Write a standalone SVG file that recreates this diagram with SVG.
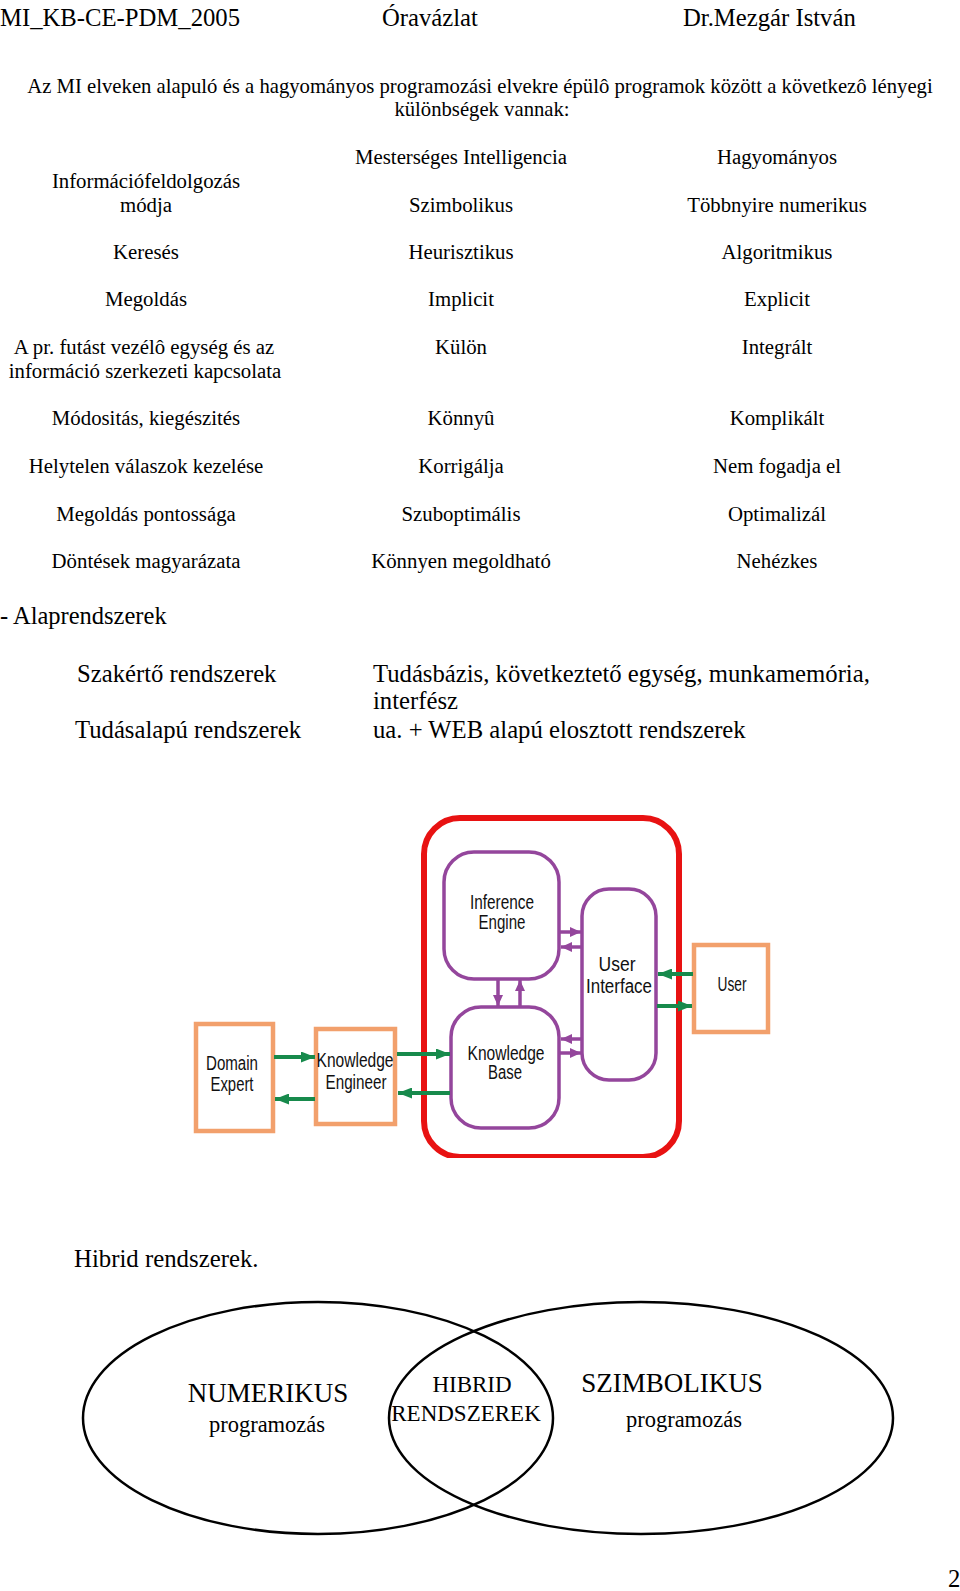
<svg xmlns="http://www.w3.org/2000/svg" width="960" height="1591" viewBox="0 0 960 1591">
<defs>
<style>
.t{font-family:"Liberation Serif","Times New Roman",serif;fill:#000}
.h{font-size:24.7px}
.r{font-size:20.8px;text-anchor:middle}
.b{font-size:24.7px}
.d{font-family:"Liberation Sans",Arial,sans-serif;font-size:20px;fill:#111;text-anchor:middle}
.org{fill:#fff;stroke:#f2a06c;stroke-width:4.5}
.pur{fill:#fff;stroke:#94469c;stroke-width:3.5}
.ga{stroke:#178a4c;stroke-width:4;fill:none;marker-end:url(#gh)}
.pa{stroke:#94469c;stroke-width:3.5;fill:none;marker-end:url(#ph)}
.v{fill:none;stroke:#000;stroke-width:2.5}
</style>
<marker id="gh" markerUnits="userSpaceOnUse" markerWidth="14" markerHeight="11" refX="14" refY="5.5" orient="auto"><path d="M0,0 L14,5.5 L0,11 z" fill="#178a4c"/></marker>
<marker id="ph" markerUnits="userSpaceOnUse" markerWidth="11" markerHeight="10" refX="11" refY="5" orient="auto"><path d="M0,0 L11,5 L0,10 z" fill="#94469c"/></marker>
<clipPath id="clip"><rect x="0" y="800" width="960" height="358"/></clipPath>
</defs>
<rect width="960" height="1591" fill="#fff"/>

<g id="header">
<text class="t h" x="0" y="26">MI_KB-CE-PDM_2005</text>
<text class="t h" x="382" y="26">Óravázlat</text>
<text class="t h" x="683" y="26">Dr.Mezgár István</text>
</g>

<g id="intro" class="t" font-size="20.7px" text-anchor="middle">
<text x="480" y="93">Az MI elveken alapuló és a hagyományos programozási elvekre épülô programok között a következô lényegi</text>
<text x="482" y="116">különbségek vannak:</text>
</g>

<g id="table">
<text class="t r" x="461" y="164">Mesterséges Intelligencia</text>
<text class="t r" x="777" y="164">Hagyományos</text>
<text class="t r" x="146" y="188">Információfeldolgozás</text>
<text class="t r" x="146" y="212">módja</text>
<text class="t r" x="461" y="212">Szimbolikus</text>
<text class="t r" x="777" y="212">Többnyire numerikus</text>
<text class="t r" x="146" y="259">Keresés</text>
<text class="t r" x="461" y="259">Heurisztikus</text>
<text class="t r" x="777" y="259">Algoritmikus</text>
<text class="t r" x="146" y="306">Megoldás</text>
<text class="t r" x="461" y="306">Implicit</text>
<text class="t r" x="777" y="306">Explicit</text>
<text class="t r" x="144" y="354">A pr. futást vezélô egység és az</text>
<text class="t r" x="145" y="378">információ szerkezeti kapcsolata</text>
<text class="t r" x="461" y="354">Külön</text>
<text class="t r" x="777" y="354">Integrált</text>
<text class="t r" x="146" y="425">Módositás, kiegészités</text>
<text class="t r" x="461" y="425">Könnyû</text>
<text class="t r" x="777" y="425">Komplikált</text>
<text class="t r" x="146" y="473">Helytelen válaszok kezelése</text>
<text class="t r" x="461" y="473">Korrigálja</text>
<text class="t r" x="777" y="473">Nem fogadja el</text>
<text class="t r" x="146" y="521">Megoldás pontossága</text>
<text class="t r" x="461" y="521">Szuboptimális</text>
<text class="t r" x="777" y="521">Optimalizál</text>
<text class="t r" x="146" y="568">Döntések magyarázata</text>
<text class="t r" x="461" y="568">Könnyen megoldható</text>
<text class="t r" x="777" y="568">Nehézkes</text>
</g>

<g id="alaprendszerek">
<text class="t" font-size="24.5px" x="0" y="624">- Alaprendszerek</text>
<text class="t b" x="77" y="682">Szakértő rendszerek</text>
<text class="t b" x="373" y="682">Tudásbázis, következtető egység, munkamemória,</text>
<text class="t b" x="373" y="709">interfész</text>
<text class="t b" x="75" y="738">Tudásalapú rendszerek</text>
<text class="t b" x="373" y="738">ua. + WEB alapú elosztott rendszerek</text>
</g>

<g id="expert-system">
<g id="system-boundary" clip-path="url(#clip)">
<rect x="424" y="818" width="255" height="339" rx="36" fill="#fff" stroke="#e81212" stroke-width="6"/>
</g>
<g id="domain-expert">
<rect class="org" x="196" y="1024" width="77" height="107"/>
<text class="d" x="232" y="1070" textLength="52" lengthAdjust="spacingAndGlyphs">Domain</text>
<text class="d" x="232" y="1091" textLength="43" lengthAdjust="spacingAndGlyphs">Expert</text>
</g>
<g id="knowledge-engineer">
<rect class="org" x="316" y="1029" width="79" height="95"/>
<text class="d" x="355" y="1067" textLength="77" lengthAdjust="spacingAndGlyphs">Knowledge</text>
<text class="d" x="356" y="1089" textLength="61" lengthAdjust="spacingAndGlyphs">Engineer</text>
</g>
<g id="inference-engine">
<rect class="pur" x="444" y="852" width="115" height="127" rx="30"/>
<text class="d" x="502" y="909" textLength="64" lengthAdjust="spacingAndGlyphs">Inference</text>
<text class="d" x="502" y="929" textLength="47" lengthAdjust="spacingAndGlyphs">Engine</text>
</g>
<g id="knowledge-base">
<rect class="pur" x="451" y="1007" width="108" height="121" rx="30"/>
<text class="d" x="506" y="1060" textLength="77" lengthAdjust="spacingAndGlyphs">Knowledge</text>
<text class="d" x="505" y="1079" textLength="34" lengthAdjust="spacingAndGlyphs">Base</text>
</g>
<g id="user-interface">
<rect class="pur" x="582" y="889" width="74" height="191" rx="27"/>
<text class="d" x="617" y="971" textLength="37" lengthAdjust="spacingAndGlyphs">User</text>
<text class="d" x="619" y="993" textLength="66" lengthAdjust="spacingAndGlyphs">Interface</text>
</g>
<g id="user">
<rect class="org" x="694" y="945" width="74" height="87"/>
<text class="d" x="732" y="991" textLength="29" lengthAdjust="spacingAndGlyphs">User</text>
</g>
</g>

<g id="connectors">
<line class="ga" x1="274" y1="1057" x2="315" y2="1057"/>
<line class="ga" x1="315" y1="1099" x2="275" y2="1099"/>
<line class="ga" x1="397" y1="1054" x2="450" y2="1054"/>
<line class="ga" x1="450" y1="1093" x2="398" y2="1093"/>
<line class="ga" x1="693" y1="974" x2="658" y2="974"/>
<line class="ga" x1="657" y1="1006" x2="692" y2="1006"/>
<line class="pa" x1="560" y1="932" x2="581" y2="932"/>
<line class="pa" x1="581" y1="947" x2="561" y2="947"/>
<line class="pa" x1="498" y1="980" x2="498" y2="1006"/>
<line class="pa" x1="520" y1="1006" x2="520" y2="980"/>
<line class="pa" x1="581" y1="1039" x2="561" y2="1039"/>
<line class="pa" x1="560" y1="1053" x2="581" y2="1053"/>
</g>

<g id="hibrid">
<text class="t" font-size="24.8px" x="74" y="1267">Hibrid rendszerek.</text>
<ellipse class="v" cx="318" cy="1418" rx="235" ry="116"/>
<ellipse class="v" cx="641" cy="1418" rx="252" ry="116"/>
<text class="t" font-size="27px" text-anchor="middle" x="268" y="1402">NUMERIKUS</text>
<text class="t" font-size="22.5px" text-anchor="middle" x="267" y="1432">programozás</text>
<text class="t" font-size="23px" text-anchor="middle" x="472" y="1392">HIBRID</text>
<text class="t" font-size="23px" text-anchor="middle" x="466" y="1421">RENDSZEREK</text>
<text class="t" font-size="27px" text-anchor="middle" x="672" y="1392">SZIMBOLIKUS</text>
<text class="t" font-size="22.5px" text-anchor="middle" x="684" y="1427">programozás</text>
</g>

<text id="page-number" class="t b" x="948" y="1587">2</text>
</svg>
